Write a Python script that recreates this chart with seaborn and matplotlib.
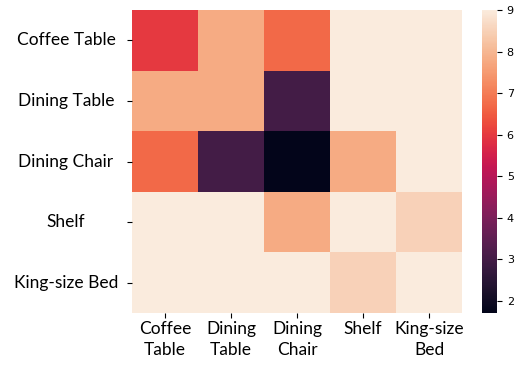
import pandas as pd
import matplotlib.pyplot as plt
import numpy as np
import seaborn as sns

rows = ['Coffee Table', 'Dining Table', 'Dining Chair', 'Shelf', 'King-size Bed']
cols = ['Coffee\nTable', 'Dining\nTable', 'Dining\nChair', 'Shelf', 'King-size\nBed']
values = [
    [6.0, 7.8, 6.7, 9.0, 9.0],
    [7.8, 7.8, 3.0, 9.0, 9.0],
    [6.7, 3.0, 1.7, 7.8, 9.0],
    [9.0, 9.0, 7.8, 9.0, 8.5],
    [9.0, 9.0, 9.0, 8.5, 9.0],
]

df = pd.DataFrame(values, index=rows, columns=cols)

fig = plt.figure(figsize=(5.15, 3.73), dpi=100)
ax = fig.add_axes([132/515, 1 - 313/373, 330/515, 303/373])
cax = fig.add_axes([482/515, 1 - 313/373, 15/515, 303/373])

sns.heatmap(df, ax=ax, cbar_ax=cax)

ax.set_xticklabels(cols, rotation=0, fontsize=12.5, family='Lato', va='top', linespacing=1.45)
ax.set_yticklabels(rows, rotation=0, fontsize=12.5, family='Lato', ha='center')
ax.tick_params(axis='y', pad=44)
ax.tick_params(axis='x', pad=2)
cax.tick_params(labelsize=8)

fig.savefig('out.png', dpi=100)
